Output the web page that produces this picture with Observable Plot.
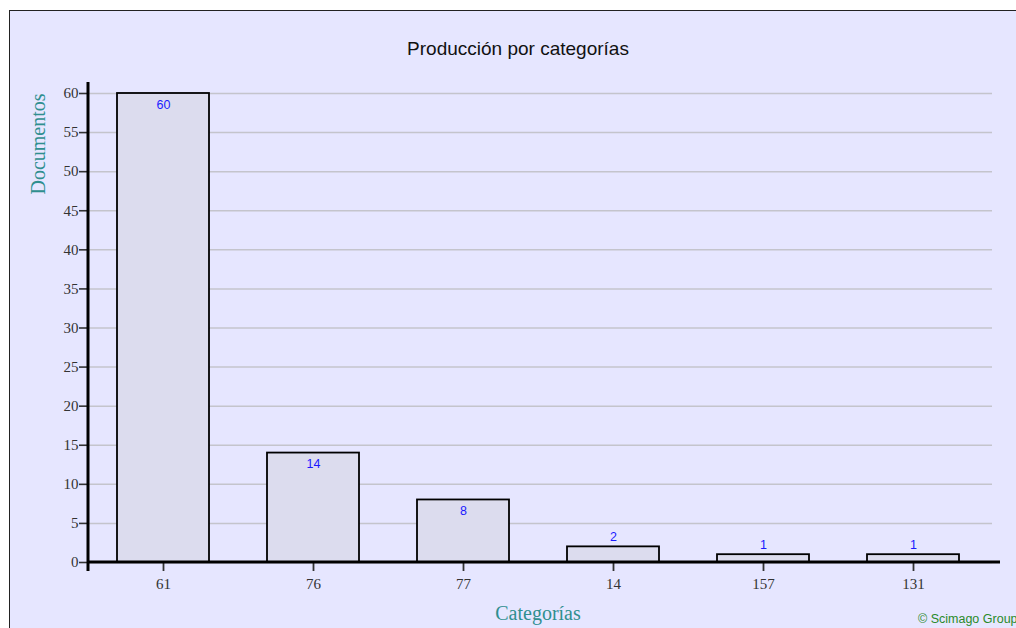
<!DOCTYPE html>
<html>
<head>
<meta charset="utf-8">
<script src="https://cdn.jsdelivr.net/npm/d3@7"></script>
<script src="https://cdn.jsdelivr.net/npm/@observablehq/plot@0.6"></script>
<style>
  html, body { margin: 0; padding: 0; background: #fff; width: 1016px; height: 628px; overflow: hidden; }
  #box { position: absolute; left: 9px; top: 10px; width: 1100px; height: 700px; background: #e6e6ff; border: 1.5px solid #222; }
  #chart { position: absolute; left: 0; top: 0; }
  .t { position: absolute; white-space: nowrap; }
  #title { left: 0; width: 1036px; top: 38px; text-align: center; font: 19px "Liberation Sans", Arial, sans-serif; color: #111; }
  #ylab { left: 38px; top: 144px; transform: translate(-50%, -50%) rotate(-90deg); font: 20px "Liberation Serif", "Times New Roman", serif; color: #2f8f8f; }
  #xlab { left: 538px; top: 613px; transform: translate(-50%, -50%); font: 20px "Liberation Serif", "Times New Roman", serif; color: #2f8f8f; }
  #credit { left: 918px; top: 612px; font-size: 12.5px; font-family: "Liberation Sans", Arial, sans-serif; color: #2a8a2a; }
</style>
</head>
<body>
<div id="box"></div>
<div id="chart"></div>
<div class="t" id="title">Producción por categorías</div>
<div class="t" id="ylab">Documentos</div>
<div class="t" id="xlab">Categorías</div>
<div class="t" id="credit">© Scimago Group</div>
<script>
const categories = ["61", "76", "77", "14", "157", "131"];
const documents = [60, 14, 8, 2, 1, 1];
const yTicks = [0, 5, 10, 15, 20, 25, 30, 35, 40, 45, 50, 55, 60];

const data = categories.map((c, i) => ({cat: c, docs: documents[i]}));

const axisLines = (index, scales, values, dimensions) => {
  const g = d3.create("svg:g");
  const x0 = dimensions.marginLeft;
  const y0 = scales.y(0);
  const yTop = scales.y(60);
  g.append("line").attr("x1", x0).attr("x2", x0).attr("y1", yTop - 11).attr("y2", y0 + 9)
    .attr("stroke", "#000").attr("stroke-width", 3);
  g.append("line").attr("x1", x0).attr("x2", dimensions.width - 16).attr("y1", y0).attr("y2", y0)
    .attr("stroke", "#000").attr("stroke-width", 3);
  return g.node();
};

const chart = Plot.plot({
  width: 1016,
  height: 628,
  marginLeft: 88,
  marginRight: 24,
  marginTop: 93,
  marginBottom: 66,
  style: {background: "transparent", overflow: "visible"},
  x: {domain: categories, range: [88, 988], paddingInner: 0.387, paddingOuter: 0.1935, label: null},
  y: {domain: [0, 60], label: null},
  marks: [
    Plot.gridY(yTicks, {stroke: "#c4c4cc", strokeOpacity: 1, strokeWidth: 1.5}),
    Plot.barY(data, {x: "cat", y: "docs", fill: "#dcdcee", stroke: "#000", strokeWidth: 1.8}),
    Plot.text(data.filter(d => d.docs >= 5), {x: "cat", y: "docs", text: d => String(d.docs), dy: 11, fill: "#1a1aff"}),
    Plot.text(data.filter(d => d.docs < 5), {x: "cat", y: "docs", text: d => String(d.docs), dy: -10, fill: "#1a1aff"}),
    Plot.axisY({ticks: yTicks, tickSize: 9, tickPadding: 1, strokeWidth: 1.6, color: "#333", label: null}),
    Plot.axisX({tickSize: 9, tickPadding: 7, strokeWidth: 1.8, color: "#333", label: null}),
    axisLines
  ]
});
d3.select(chart).selectAll('g[aria-label$="tick label"] text')
  .style("font-size", "15px").style("font-family", "'Liberation Serif', 'Times New Roman', serif");
d3.select(chart).selectAll('g[aria-label="text"] text')
  .style("font-size", "12.5px").style("font-family", "'Liberation Sans', Arial, sans-serif");
document.getElementById("chart").appendChild(chart);
</script>
</body>
</html>
